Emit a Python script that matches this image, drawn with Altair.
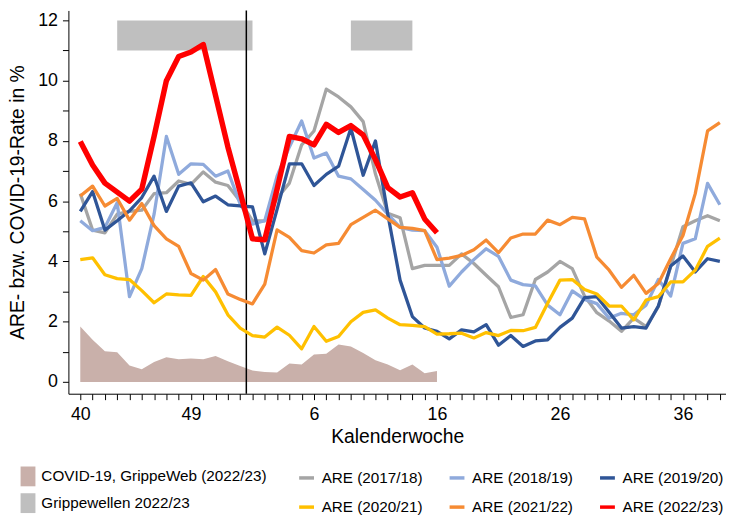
import altair as alt
import pandas as pd

# Calendar weeks 40..53, 1..39 (53 positions)
weeks = [str(w) for w in list(range(40, 54)) + list(range(1, 40))]
tick_pos = [0, 9, 19, 29, 39, 49]

series_names = ["ARE (2017/18)", "ARE (2018/19)", "ARE (2019/20)",
                "ARE (2020/21)", "ARE (2021/22)", "ARE (2022/23)"]
series_colors = ["#a5a5a5", "#8faadc", "#2f5597", "#ffc000", "#f68b33", "#ff0000"]

are_1718 = [6.25, 5.04, 4.95, 5.57, 5.66, 5.7, 6.25, 6.28, 6.67, 6.56, 6.97, 6.63, 6.52, 6.0,
            5.35, 5.35, 6.1, 6.6, 7.87, 8.33, 9.72, 9.46, 9.13, 8.64, 6.9, 5.6, 5.45, 3.76,
            3.87, 3.87, 3.87, 4.25, 3.93, 3.54, 3.16, 2.14, 2.23, 3.4, 3.65, 4.0, 3.76, 2.85,
            2.3, 2.02, 1.68, 2.12, 1.84, 2.5, 3.82, 5.15, 5.35, 5.52, 5.35]
are_1819 = [5.35, 5.02, 5.13, 5.95, 2.83, 3.76, 5.57, 8.15, 6.89, 7.24, 7.22, 6.83, 7.0, 5.9,
            5.24, 5.35, 6.83, 7.8, 8.66, 7.43, 7.6, 6.83, 6.74, 6.39, 6.03, 5.57, 5.13, 5.04,
            5.02, 4.47, 3.18, 3.65, 4.06, 4.42, 4.17, 3.38, 3.23, 3.19, 2.55, 2.23, 3.02, 2.74,
            2.6, 2.12, 2.28, 2.23, 2.55, 3.4, 2.85, 4.6, 4.75, 6.59, 5.88]
are_1920 = [5.66, 6.32, 5.04, 5.35, 5.68, 6.12, 6.83, 5.66, 6.5, 6.61, 5.98, 6.17, 5.88, 5.84,
            5.81, 4.25, 5.73, 7.24, 7.24, 6.52, 6.89, 7.16, 8.42, 6.86, 8.0, 5.57, 3.38, 2.17,
            1.79, 1.68, 1.43, 1.73, 1.66, 1.9, 1.22, 1.54, 1.18, 1.36, 1.4, 1.81, 2.12, 2.8,
            2.83, 2.31, 1.79, 1.84, 1.79, 2.52, 3.85, 4.18, 3.65, 4.09, 4.0]
are_2021 = [4.06, 4.12, 3.56, 3.43, 3.4, 3.03, 2.63, 2.92, 2.89, 2.87, 3.5, 2.99, 2.23, 1.79,
            1.54, 1.49, 1.82, 1.55, 1.1, 1.84, 1.35, 1.51, 2.0, 2.31, 2.39, 2.12, 1.9, 1.88,
            1.84, 1.59, 1.6, 1.62, 1.46, 1.64, 1.54, 1.71, 1.7, 1.81, 2.61, 3.38, 3.4, 3.07,
            2.92, 2.52, 2.52, 2.06, 2.72, 2.83, 3.32, 3.32, 3.71, 4.5, 4.77]
are_2122 = [6.17, 6.5, 5.84, 6.09, 5.37, 5.92, 5.19, 4.75, 4.5, 3.6, 3.38, 3.73, 2.92, 2.74,
            2.59, 3.25, 5.05, 4.8, 4.36, 4.28, 4.55, 4.6, 5.22, 5.46, 5.7, 5.41, 5.13, 5.1,
            5.02, 4.06, 4.11, 4.2, 4.39, 4.71, 4.29, 4.78, 4.91, 4.91, 5.37, 5.22, 5.46, 5.41,
            4.14, 3.71, 3.14, 3.54, 2.94, 3.27, 4.09, 4.86, 6.25, 8.33, 8.61]
are_2223 = [7.98, 7.2, 6.6, 6.3, 6.0, 6.4, 8.15, 10.0, 10.8, 10.95, 11.2, 9.5, 7.8, 6.3,
            4.75, 4.72, 6.4, 8.15, 8.07, 7.87, 8.55, 8.28, 8.51, 8.2, 7.38, 6.45, 6.14, 6.28,
            5.41, 4.95]

covid_label = "COVID-19, GrippeWeb (2022/23)"
covid_2223 = [1.84, 1.4, 1.02, 0.99, 0.55, 0.42, 0.66, 0.82, 0.75, 0.78, 0.75, 0.86, 0.69,
              0.53, 0.38, 0.33, 0.31, 0.61, 0.58, 0.91, 0.94, 1.24, 1.18, 0.96, 0.72, 0.58,
              0.39, 0.58, 0.29, 0.36]

wave_label = "Grippewellen 2022/23"
wave_start = [3, 22]
wave_end = [14, 27]
wave_low = [11, 11]
wave_high = [12, 12]

year_boundary = [13.5]

FONT = "Liberation Sans"

# ---- data tables ----
rows = []
for name, vals in zip(series_names[:5], [are_1718, are_1819, are_1920, are_2021, are_2122]):
    for i, v in enumerate(vals):
        rows.append({"idx": i, "value": v, "series": name})
lines_df = pd.DataFrame(rows)
red_df = pd.DataFrame({"idx": list(range(len(are_2223))), "value": are_2223,
                       "series": series_names[5]})
area_df = pd.DataFrame({"idx": list(range(len(covid_2223))), "value": covid_2223,
                        "label": covid_label})
wave_df = pd.DataFrame({"x": wave_start, "x2": wave_end, "y": wave_low, "y2": wave_high,
                        "label": wave_label})
rule_df = pd.DataFrame({"x": year_boundary})

# label expression: nested ternary from the tick positions / week names
x_label_expr = "''"
for p in reversed(tick_pos):
    x_label_expr = f"(round(datum.value) == {p} ? '{weeks[p]}' : {x_label_expr})"

x_scale = alt.Scale(domain=[-0.966, 52.5], nice=False, zero=False)
y_scale = alt.Scale(domain=[-0.39, 12.33], nice=False, zero=False)

x_axis = alt.Axis(values=list(range(53)), labelExpr=x_label_expr, title="Kalenderwoche",
                  tickSize=6, labelPadding=6, titlePadding=4, labelFontSize=18,
                  titleFontSize=19.5, labelOverlap=False, labelFlush=False,
                  labelBound=False)
y_axis = alt.Axis(values=list(range(13)), labelExpr="datum.value % 2 === 0 ? datum.label : ''",
                  title="ARE- bzw. COVID-19-Rate in %", tickSize=6, labelPadding=5,
                  titlePadding=10, labelFontSize=18, titleFontSize=19.5,
                  labelOverlap=False)

fill_legend = alt.Legend(title=None, orient="none", legendX=-50.8, legendY=460.5,
                         direction="vertical", symbolType="M-0.75,-1H0.75V1H-0.75Z",
                         symbolSize=400, symbolStrokeWidth=0, symbolOpacity=1,
                         labelFontSize=15.4, labelFont=FONT, labelOffset=3.5,
                         rowPadding=7, padding=0, labelLimit=400, labelColor="black")
stroke_legend = alt.Legend(title=None, orient="none", legendX=231, legendY=462.5,
                           direction="horizontal", columns=3, symbolType="stroke",
                           symbolSize=225, symbolStrokeWidth=3.5, labelFontSize=15.4,
                           labelFont=FONT, labelOffset=5.7, columnPadding=19.9,
                           rowPadding=11.5, padding=0, labelLimit=400, labelColor="black")

fill_enc = alt.Fill("label:N",
                    scale=alt.Scale(domain=[covid_label, wave_label],
                                    range=["#c9b0aa", "#bfbfbf"]),
                    legend=fill_legend)
stroke_enc = alt.Stroke("series:N",
                        scale=alt.Scale(domain=series_names, range=series_colors),
                        legend=stroke_legend)

area = alt.Chart(area_df).mark_area(opacity=1).encode(
    x=alt.X("idx:Q", scale=x_scale, axis=x_axis),
    y=alt.Y("value:Q", scale=y_scale, axis=y_axis),
    fill=fill_enc,
)
waves = alt.Chart(wave_df).mark_rect(opacity=1).encode(
    x=alt.X("x:Q", scale=x_scale, axis=x_axis),
    x2="x2:Q",
    y=alt.Y("y:Q", scale=y_scale, axis=y_axis),
    y2="y2:Q",
    fill=fill_enc,
)
rule = alt.Chart(rule_df).mark_rule(color="black", strokeWidth=1.5).encode(
    x=alt.X("x:Q", scale=x_scale, axis=x_axis)
)
lines = alt.Chart(lines_df).mark_line(strokeWidth=3.3, strokeJoin="round").encode(
    x=alt.X("idx:Q", scale=x_scale, axis=x_axis),
    y=alt.Y("value:Q", scale=y_scale, axis=y_axis),
    stroke=stroke_enc,
)
red = alt.Chart(red_df).mark_line(strokeWidth=5.5, strokeJoin="round").encode(
    x=alt.X("idx:Q", scale=x_scale, axis=x_axis),
    y=alt.Y("value:Q", scale=y_scale, axis=y_axis),
    stroke=stroke_enc,
)

chart = alt.layer(area, waves, rule, lines, red).properties(
    width=664, height=387,
    autosize=alt.AutoSizeParams(type="none"),
    padding={"left": 61, "top": 0, "right": 0, "bottom": 120},
).configure_view(stroke=None).configure_axis(
    grid=False, domainColor="black", tickColor="black", labelColor="black",
    titleColor="black", labelFont=FONT, titleFont=FONT, titleFontWeight="normal",
    domainWidth=1, tickWidth=1, labelOverlap=False,
).configure_legend(labelFont=FONT)

chart.save("out.html", embed_options={"renderer": "svg", "actions": False})
